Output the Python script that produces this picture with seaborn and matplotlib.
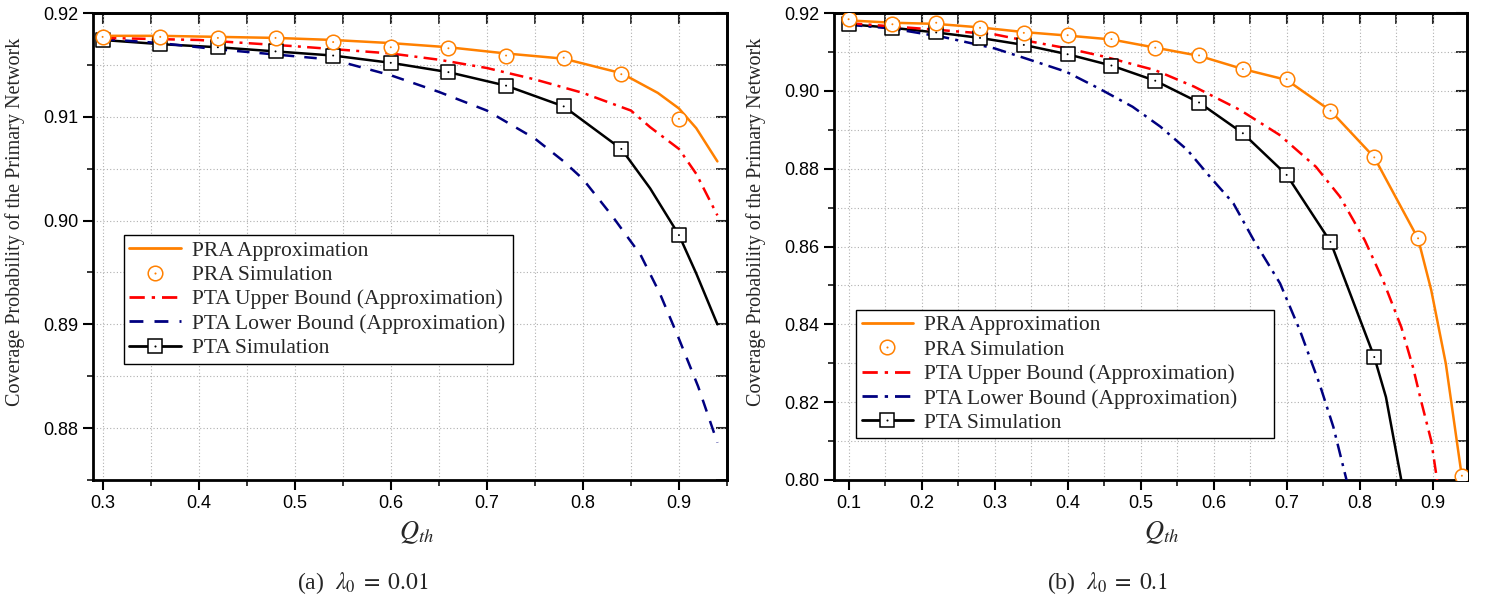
import matplotlib
matplotlib.use("Agg")
import matplotlib.pyplot as plt
import seaborn as sns
from matplotlib.lines import Line2D
from matplotlib.ticker import MultipleLocator, FormatStrFormatter

# ---------------- panel (a): lambda0 = 0.01 ----------------
a_pra_approx_x = [0.30, 0.36, 0.42, 0.48, 0.54, 0.60, 0.66, 0.72, 0.78, 0.84, 0.878, 0.90, 0.918, 0.94]
a_pra_approx_y = [0.9178, 0.9178, 0.9177, 0.9176, 0.9174, 0.9171, 0.9167, 0.9161, 0.9156, 0.9142, 0.9123, 0.9108, 0.9089, 0.9057]
a_sim_x = [0.30, 0.36, 0.42, 0.48, 0.54, 0.60, 0.66, 0.72, 0.78, 0.84, 0.90]
a_pra_sim_y = [0.9177, 0.9177, 0.9176, 0.9176, 0.9172, 0.9167, 0.9166, 0.9159, 0.9157, 0.9141, 0.9098]
a_upper_x = [0.30, 0.40, 0.50, 0.60, 0.65, 0.70, 0.75, 0.80, 0.85, 0.87, 0.90, 0.918, 0.94]
a_upper_y = [0.9176, 0.9174, 0.9168, 0.9161, 0.9155, 0.9147, 0.9136, 0.9123, 0.9106, 0.9090, 0.9069, 0.9045, 0.9005]
a_lower_x = [0.30, 0.36, 0.42, 0.48, 0.54, 0.60, 0.65, 0.70, 0.75, 0.78, 0.80, 0.83, 0.86, 0.88, 0.90, 0.92, 0.94]
a_lower_y = [0.9175, 0.9171, 0.9165, 0.9160, 0.9155, 0.9140, 0.9124, 0.9106, 0.9079, 0.9057, 0.9040, 0.9005, 0.8967, 0.8930, 0.8886, 0.8840, 0.8786]
a_pta_sim_y = [0.9174, 0.9170, 0.9167, 0.9163, 0.9159, 0.9152, 0.9143, 0.9130, 0.9110, 0.9069, 0.8986]
a_pta_line_x = [0.30, 0.36, 0.42, 0.48, 0.54, 0.60, 0.66, 0.72, 0.78, 0.84, 0.87, 0.90, 0.918, 0.94]
a_pta_line_y = [0.9174, 0.9170, 0.9167, 0.9163, 0.9159, 0.9152, 0.9143, 0.9130, 0.9110, 0.9069, 0.9031, 0.8986, 0.8949, 0.8900]

# ---------------- panel (b): lambda0 = 0.1 ----------------
b_pra_approx_x = [0.10, 0.16, 0.22, 0.28, 0.34, 0.40, 0.46, 0.52, 0.58, 0.64, 0.70, 0.76, 0.82, 0.88, 0.898, 0.918, 0.94]
b_pra_approx_y = [0.9181, 0.9175, 0.9172, 0.9163, 0.9151, 0.9142, 0.9132, 0.9111, 0.9090, 0.9056, 0.9028, 0.8949, 0.8829, 0.8620, 0.8488, 0.8299, 0.8008]
b_pra_sim_x = [0.10, 0.16, 0.22, 0.28, 0.34, 0.40, 0.46, 0.52, 0.58, 0.64, 0.70, 0.76, 0.82, 0.88, 0.94]
b_pra_sim_y = [0.9184, 0.9171, 0.9175, 0.9162, 0.9149, 0.9143, 0.9133, 0.9111, 0.9091, 0.9056, 0.9030, 0.8949, 0.8829, 0.8621, 0.8011]
b_upper_x = [0.10, 0.22, 0.30, 0.34, 0.40, 0.45, 0.52, 0.573, 0.636, 0.69, 0.74, 0.773, 0.807, 0.832, 0.857, 0.873, 0.884, 0.898, 0.906]
b_upper_y = [0.9174, 0.9157, 0.9145, 0.9130, 0.9109, 0.9088, 0.9053, 0.9011, 0.8951, 0.8887, 0.8805, 0.8728, 0.8616, 0.8513, 0.8393, 0.8290, 0.8204, 0.8101, 0.8000]
b_lower_x = [0.10, 0.16, 0.23, 0.30, 0.343, 0.398, 0.443, 0.489, 0.527, 0.564, 0.595, 0.627, 0.655, 0.691, 0.718, 0.745, 0.764, 0.782]
b_lower_y = [0.9170, 0.9160, 0.9138, 0.9109, 0.9083, 0.9049, 0.9006, 0.8959, 0.8908, 0.8848, 0.8779, 0.8711, 0.8616, 0.8505, 0.8385, 0.8247, 0.8136, 0.8000]
b_pta_sim_x = [0.10, 0.16, 0.22, 0.28, 0.34, 0.40, 0.46, 0.52, 0.58, 0.64, 0.70, 0.76, 0.82]
b_pta_sim_y = [0.9171, 0.9162, 0.9150, 0.9136, 0.9118, 0.9094, 0.9065, 0.9026, 0.8970, 0.8891, 0.8784, 0.8612, 0.8316]
b_pta_line_x = [0.10, 0.16, 0.22, 0.28, 0.34, 0.40, 0.46, 0.52, 0.58, 0.64, 0.70, 0.76, 0.82, 0.836, 0.857]
b_pta_line_y = [0.9171, 0.9162, 0.9150, 0.9136, 0.9118, 0.9094, 0.9065, 0.9026, 0.8970, 0.8891, 0.8784, 0.8612, 0.8316, 0.8213, 0.8000]

labels = ["PRA Approximation", "PRA Simulation", "PTA Upper Bound (Approximation)",
          "PTA Lower Bound (Approximation)", "PTA Simulation"]
ylabel = "Coverage Probability of the Primary Network"

ORANGE = "#FF8000"
RED = "#FF0000"
NAVY = "#000080"
BLACK = "#000000"

sns.set_theme(style="ticks")
plt.rcParams["font.family"] = ["Liberation Serif", "DejaVu Serif"]
plt.rcParams["mathtext.fontset"] = "stix"

W, H = 1495, 601
fig = plt.figure(figsize=(W / 100, H / 100), dpi=100)
axL = fig.add_axes([93 / W, 1 - 480 / H, (727 - 93) / W, (480 - 13) / H])
axR = fig.add_axes([834 / W, 1 - 480 / H, (1467 - 834) / W, (480 - 13) / H])

MS = 110


def markers(ax, x, y, marker, color, z):
    sns.scatterplot(x=x, y=y, ax=ax, marker=marker, s=MS, facecolor="white",
                    edgecolor=color, linewidth=1.1, zorder=z, legend=False)
    sns.scatterplot(x=x, y=y, ax=ax, marker="o", s=2, facecolor=color,
                    edgecolor="none", linewidth=0, zorder=z + 0.5, legend=False)


def panel(ax, d, lower_ls, xlim, ylim, ymaj, ymin, yfmt, leg_box, xl_x, yl_x):
    sns.lineplot(x=d["pta_lx"], y=d["pta_ly"], ax=ax, color=BLACK, lw=1.8,
                 estimator=None, sort=False, zorder=3)
    sns.lineplot(x=d["low_x"], y=d["low_y"], ax=ax, color=NAVY, lw=1.8,
                 linestyle=lower_ls, estimator=None, sort=False, zorder=3)
    sns.lineplot(x=d["up_x"], y=d["up_y"], ax=ax, color=RED, lw=1.8,
                 linestyle=(0, (5.5, 2.5, 1.2, 2.5)), estimator=None, sort=False, zorder=3)
    sns.lineplot(x=d["pra_x"], y=d["pra_y"], ax=ax, color=ORANGE, lw=1.8,
                 estimator=None, sort=False, zorder=3)
    markers(ax, d["pta_sx"], d["pta_sy"], "s", BLACK, 4)
    markers(ax, d["pra_sx"], d["pra_sy"], "o", ORANGE, 5)

    ax.set_xlim(*xlim)
    ax.set_ylim(*ylim)
    ax.xaxis.set_major_locator(MultipleLocator(0.1))
    ax.xaxis.set_minor_locator(MultipleLocator(0.05))
    ax.yaxis.set_major_locator(MultipleLocator(ymaj))
    ax.yaxis.set_minor_locator(MultipleLocator(ymin))
    ax.xaxis.set_major_formatter(FormatStrFormatter("%.1f"))
    ax.yaxis.set_major_formatter(FormatStrFormatter(yfmt))
    ax.tick_params(which="major", direction="out", length=7, width=1.5,
                   labelsize=13, labelfontfamily="Liberation Sans", colors=BLACK)
    ax.tick_params(which="minor", direction="out", length=4, width=1.3)
    ax.grid(True, which="both", color="#b0b0b0", linestyle=(0, (1, 2)), linewidth=0.8)
    ax.set_axisbelow(True)
    for s in ax.spines.values():
        s.set_linewidth(2.0)
        s.set_color(BLACK)

    for side in ("top", "right"):
        sec = ax.secondary_xaxis("top") if side == "top" else ax.secondary_yaxis("right")
        axis = sec.xaxis if side == "top" else sec.yaxis
        axis.set_major_locator(MultipleLocator(0.1 if side == "top" else ymaj))
        axis.set_minor_locator(MultipleLocator(0.05 if side == "top" else ymin))
        sec.tick_params(which="major", direction="in", length=8, width=1.5,
                        labeltop=False, labelright=False, labelbottom=False, labelleft=False)
        sec.tick_params(which="minor", direction="in", length=8, width=1.3)
        for s in sec.spines.values():
            s.set_linewidth(2.0)

    ax.set_xlabel(r"$Q_{th}$", fontsize=19)
    ax.xaxis.set_label_coords(xl_x, -0.085)
    ax.set_ylabel(ylabel, fontsize=14.5)
    ax.yaxis.set_label_coords(yl_x, 0.553)

    hs = [
        Line2D([], [], color=ORANGE, lw=2),
        (Line2D([], [], ls="none", marker="o", mfc="white", mec=ORANGE, ms=10.5, mew=1.1),
         Line2D([], [], ls="none", marker="o", mfc=ORANGE, mec="none", ms=1.5)),
        Line2D([], [], color=RED, lw=2, linestyle=(0, (5.5, 2.5, 1.2, 2.5))),
        Line2D([], [], color=NAVY, lw=2, linestyle=lower_ls),
        (Line2D([], [], color=BLACK, lw=2, marker="s", mfc="white", mec=BLACK, ms=10.5, mew=1.1),
         Line2D([], [], ls="none", marker="o", mfc=BLACK, mec="none", ms=1.5)),
    ]
    x0, w, top = leg_box
    leg = ax.legend(hs, labels, loc="upper left", bbox_to_anchor=(x0, 0, w, top),
                    mode="expand", borderaxespad=0, fontsize=15.5, frameon=True,
                    fancybox=False, framealpha=1, edgecolor=BLACK,
                    handlelength=2.4, handletextpad=0.5, labelspacing=0.2,
                    borderpad=0.25)
    leg.get_frame().set_linewidth(1.0)
    leg.set_zorder(10)


dA = dict(pra_x=a_pra_approx_x, pra_y=a_pra_approx_y, pra_sx=a_sim_x, pra_sy=a_pra_sim_y,
          up_x=a_upper_x, up_y=a_upper_y, low_x=a_lower_x, low_y=a_lower_y,
          pta_sx=a_sim_x, pta_sy=a_pta_sim_y, pta_lx=a_pta_line_x, pta_ly=a_pta_line_y)
dB = dict(pra_x=b_pra_approx_x, pra_y=b_pra_approx_y, pra_sx=b_pra_sim_x, pra_sy=b_pra_sim_y,
          up_x=b_upper_x, up_y=b_upper_y, low_x=b_lower_x, low_y=b_lower_y,
          pta_sx=b_pta_sim_x, pta_sy=b_pta_sim_y, pta_lx=b_pta_line_x, pta_ly=b_pta_line_y)

panel(axL, dA, (0, (5, 4)), (0.29, 0.95), (0.875, 0.92), 0.01, 0.005, "%.2f",
      (0.049, 0.614, 0.524), 0.511, -0.108)
panel(axR, dB, (0, (5.5, 2.5, 1.2, 2.5)), (0.08, 0.947), (0.80, 0.92), 0.02, 0.01, "%.2f",
      (0.035, 0.660, 0.364), 0.518, -0.108)

fig.text(363 / W, 1 - 583 / H, r"(a)  $\lambda_0\;=\;0.01$", ha="center", va="center", fontsize=17)
fig.text(1107 / W, 1 - 583 / H, r"(b)  $\lambda_0\;=\;0.1$", ha="center", va="center", fontsize=17)

fig.savefig("out.png", dpi=100)
